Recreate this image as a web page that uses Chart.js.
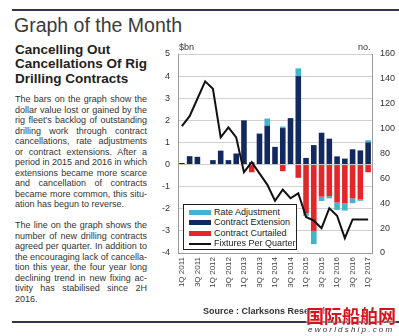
<!DOCTYPE html>
<html>
<head>
<meta charset="utf-8">
<script src="https://cdn.jsdelivr.net/npm/chart.js@4.4.1/dist/chart.umd.min.js"></script>
<style>
  html, body { margin:0; padding:0; background:#fff; }
  body { width:399px; height:336px; position:relative; overflow:hidden; font-family:'Liberation Sans', Arial, Helvetica, sans-serif; color:#333; }
  .abs { position:absolute; }
  .rule { position:absolute; left:12px; width:387px; height:2px; background:#2e3a48; }
  .title { left:14px; top:13px; font-size:19.5px; line-height:24px; color:#3a3a3a; }
  .head { left:15px; top:43px; font-size:13.5px; font-weight:bold; line-height:14.3px; color:#222; white-space:nowrap; }
  .para { left:15px; width:132px; font-size:9px; line-height:10.5px; color:#333; }
  .para div { white-space:nowrap; text-align:justify; text-align-last:justify; }
  .para div.last { text-align-last:left; }
  .legend { left:183px; top:204px; width:112px; height:44px; border:1px solid #222; background:#fff; }
  .legend .row { position:absolute; left:0; height:10.5px; width:100%; font-size:9px; line-height:10.5px; color:#222; white-space:nowrap; }
  .legend .sw { position:absolute; left:5px; top:3px; width:22px; height:5px; }
  .legend .ln { position:absolute; left:5px; top:4.5px; width:22px; height:2px; background:#111; }
  .legend .tx { position:absolute; left:30px; top:0; }
</style>
</head>
<body>
<div class="rule" style="top:9px"></div>
<div class="abs title">Graph of the Month</div>
<div class="abs head">Cancelling Out<br>Cancellations Of Rig<br>Drilling Contracts</div>
<div class="abs para" style="top:94px">
  <div>The bars on the graph show the</div>
  <div>dollar value lost or gained by the</div>
  <div>rig fleet's backlog of outstanding</div>
  <div>drilling work through contract</div>
  <div>cancellations, rate adjustments</div>
  <div>or contract extensions. After a</div>
  <div>period in 2015 and 2016 in which</div>
  <div>extensions became more scarce</div>
  <div>and cancellation of contracts</div>
  <div>became more common, this situ-</div>
  <div class="last">ation has begun to reverse.</div>
</div>
<div class="abs para" style="top:220px">
  <div>The line on the graph shows the</div>
  <div>number of new drilling contracts</div>
  <div>agreed per quarter. In addition to</div>
  <div>the encouraging lack of cancella-</div>
  <div>tion this year, the four year long</div>
  <div>declining trend in new fixing ac-</div>
  <div>tivity has stabilised since 2H</div>
  <div class="last">2016.</div>
</div>

<div class="abs" style="left:155px;top:40px;width:244px;height:258px;">
  <canvas id="c" width="244" height="258"></canvas>
</div>
<div class="abs" style="left:179px;top:42px;font-size:9px;color:#333;">$bn</div>
<div class="abs" style="left:358px;top:42px;font-size:9px;color:#333;">no.</div>

<div class="abs legend">
  <div class="row" style="top:1.5px"><span class="sw" style="background:#42b4cb"></span><span class="tx">Rate Adjustment</span></div>
  <div class="row" style="top:12px"><span class="sw" style="background:#13285e"></span><span class="tx">Contract Extension</span></div>
  <div class="row" style="top:22.5px"><span class="sw" style="background:#e2262a"></span><span class="tx">Contract Curtailed</span></div>
  <div class="row" style="top:33px"><span class="ln"></span><span class="tx">Fixtures Per Quarter</span></div>
</div>

<div class="abs" style="left:203px;top:306px;font-size:9px;font-weight:bold;color:#333;white-space:nowrap;">Source : Clarksons Research</div>
<div class="rule" style="top:321px"></div>
<div class="abs" style="left:306px;top:305px;font-family:'Noto Sans CJK SC';font-weight:bold;font-size:18px;line-height:20px;color:#d4161c;text-shadow:0 0 2px #fff,0 0 2px #fff;white-space:nowrap;">国际船舶网</div>
<div class="abs" style="left:308px;top:325px;font-size:8px;line-height:9px;font-style:italic;letter-spacing:2.2px;color:#333;white-space:nowrap;">eworldship.com</div>

<script>
const quarters = ['1Q 2011','2Q 2011','3Q 2011','4Q 2011','1Q 2012','2Q 2012','3Q 2012','4Q 2012',
  '1Q 2013','2Q 2013','3Q 2013','4Q 2013','1Q 2014','2Q 2014','3Q 2014','4Q 2014',
  '1Q 2015','2Q 2015','3Q 2015','4Q 2015','1Q 2016','2Q 2016','3Q 2016','4Q 2016','1Q 2017'];
const contractExtension = [0.07,0.38,0.35,0,0.2,0.63,0.2,0.5,2.0,0.1,1.4,1.76,0.8,1.65,2.1,4.0,0.3,0.88,1.44,1.17,0.37,0.27,0.69,0.64,1.0];
const contractCurtailed = [0,0,0,0,0,0,0,0,0,-0.35,0,0,0,-0.3,0,-0.6,-2.2,-3.0,-1.45,-1.43,-1.72,-1.75,-1.53,-1.58,-0.35];
const rateAdjustment = [0,0,0,0,0,0,0,0,0,0,0,0.32,0,0.07,0,0.35,-0.12,-0.6,-0.2,-0.1,-0.33,-0.33,-0.22,-0.06,0.1];
const fixturesPerQuarter = [102,110,124,138,132,93,101,93,65,73,64,55,42,51,44,48,29,26,20,36,30,12,27,27,27];
const leftTicks = {min:-4, max:5, step:1};
const rightTicks = {min:0, max:160, step:20};

Chart.defaults.font.family = "'Liberation Sans', Arial, Helvetica, sans-serif";
Chart.defaults.animation = false;

new Chart(document.getElementById('c'), {
  data: {
    labels: quarters,
    datasets: [
      {type:'bar', label:'Contract Extension', data:contractExtension, backgroundColor:'#13285e', stack:'s', yAxisID:'y', order:1, barPercentage:0.72, categoryPercentage:1},
      {type:'bar', label:'Contract Curtailed', data:contractCurtailed, backgroundColor:'#e2262a', stack:'s', yAxisID:'y', order:1, barPercentage:0.72, categoryPercentage:1},
      {type:'bar', label:'Rate Adjustment', data:rateAdjustment, backgroundColor:'#42b4cb', stack:'s', yAxisID:'y', order:1, barPercentage:0.72, categoryPercentage:1},
      {type:'line', label:'Fixtures Per Quarter', data:fixturesPerQuarter, borderColor:'#111', borderWidth:2, pointRadius:0, tension:0, fill:false, yAxisID:'y2', order:0}
    ]
  },
  options: {
    responsive:false,
    maintainAspectRatio:false,
    layout:{padding:{top:14, left:0, right:0, bottom:0}},
    plugins:{legend:{display:false}, tooltip:{enabled:false}},
    scales:{
      x:{
        stacked:true, offset:true,
        grid:{display:false, drawTicks:false},
        border:{display:true, color:'#9a9a9a'},
        ticks:{autoSkip:false, maxRotation:90, minRotation:90, padding:4, color:'#444', font:{size:8},
          callback:(v,i)=> i%2===0 ? quarters[i] : ''},
        afterFit:s=>{ s.height = 45; }
      },
      y:{
        stacked:true, position:'left', min:leftTicks.min, max:leftTicks.max,
        ticks:{stepSize:leftTicks.step, padding:8, color:'#333', font:{size:9}},
        grid:{color:'#d0d0d0', drawTicks:false},
        border:{display:true, color:'#9a9a9a'},
        afterFit:s=>{ s.width = 23; }
      },
      y2:{
        position:'right', min:rightTicks.min, max:rightTicks.max,
        ticks:{stepSize:rightTicks.step, padding:8, color:'#333', font:{size:9}},
        grid:{display:false, drawTicks:false},
        border:{display:true, color:'#9a9a9a'},
        afterFit:s=>{ s.width = 27; }
      }
    }
  }
});
</script>
</body>
</html>
